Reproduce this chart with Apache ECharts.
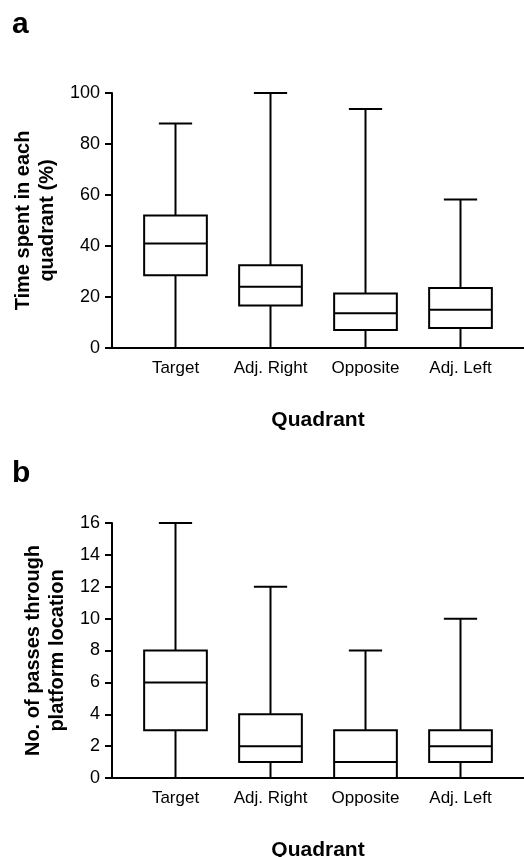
<!DOCTYPE html>
<html>
<head>
<meta charset="utf-8">
<script src="https://cdn.jsdelivr.net/npm/echarts@6/dist/echarts.min.js"></script>
<style>
  html, body { margin: 0; padding: 0; background: #fff; }
  #chart { width: 524px; height: 857px; }
</style>
</head>
<body>
<div id="chart"></div>
<script>
const quadrants = ["Target", "Adj. Right", "Opposite", "Adj. Left"];

// [min, q1, median, q3, max] per quadrant
const timeSpent = [
  [0, 28.5, 41, 52, 88],
  [0, 16.7, 24, 32.5, 100],
  [0, 7.1, 13.6, 21.4, 93.7],
  [0, 7.8, 15, 23.5, 58.2]
];
const passes = [
  [0, 3, 6, 8, 16],
  [0, 1, 2, 4, 12],
  [0, 0, 1, 3, 8],
  [0, 1, 2, 3, 10]
];

const FONT = "Liberation Sans, Arial, sans-serif";
const gridTop = [93, 523];
const gridH = 255;

function renderBox(params, api) {
  const i = api.value(0);
  const lo = api.coord([i, api.value(1)]);
  const q1 = api.coord([i, api.value(2)]);
  const med = api.coord([i, api.value(3)]);
  const q3 = api.coord([i, api.value(4)]);
  const hi = api.coord([i, api.value(5)]);
  const band = api.size([1, 0])[0];
  const bw = band * 0.66;
  const cw = band * 0.35;
  const cx = lo[0];
  const st = { stroke: "#000", lineWidth: 2, fill: null };
  return {
    type: "group",
    children: [
      { type: "line", shape: { x1: cx, y1: lo[1], x2: cx, y2: hi[1] }, style: st },
      { type: "line", shape: { x1: cx - cw / 2, y1: hi[1], x2: cx + cw / 2, y2: hi[1] }, style: st },
      { type: "rect", shape: { x: cx - bw / 2, y: q3[1], width: bw, height: q1[1] - q3[1] },
        style: { stroke: "#000", lineWidth: 2, fill: "#fff" } },
      { type: "line", shape: { x1: cx - bw / 2, y1: med[1], x2: cx + bw / 2, y2: med[1] }, style: st }
    ]
  };
}

function toRows(arr) {
  return arr.map((v, i) => [i].concat(v));
}

function xAxisCfg(idx) {
  return {
    type: "category",
    gridIndex: idx,
    data: quadrants,
    axisLine: { show: false },
    axisTick: { show: false },
    axisLabel: { color: "#000", fontSize: 17, fontFamily: FONT, margin: 12, interval: 0 },
    name: "Quadrant",
    nameLocation: "middle",
    nameGap: 62,
    nameTextStyle: { color: "#000", fontSize: 21, fontWeight: "bold", fontFamily: FONT }
  };
}

function yAxisCfg(idx, max, interval, name, gap) {
  return {
    type: "value",
    gridIndex: idx,
    min: 0,
    max: max,
    interval: interval,
    offset: 16,
    axisLine: { show: true, lineStyle: { color: "#000", width: 2 } },
    axisTick: { show: true, length: 7, lineStyle: { color: "#000", width: 2 } },
    axisLabel: { color: "#000", fontSize: 18, fontFamily: FONT, margin: 12 },
    splitLine: { show: false },
    name: name,
    nameLocation: "middle",
    nameRotate: 90,
    nameGap: gap,
    nameTextStyle: { color: "#000", fontSize: 20, fontWeight: "bold", fontFamily: FONT, lineHeight: 24 }
  };
}

const chart = echarts.init(document.getElementById("chart"));
chart.setOption({
  backgroundColor: "#fff",
  animation: false,
  grid: [
    { left: 128, width: 380, top: gridTop[0], height: gridH, outerBoundsMode: "none" },
    { left: 128, width: 380, top: gridTop[1], height: gridH, outerBoundsMode: "none" }
  ],
  xAxis: [xAxisCfg(0), xAxisCfg(1)],
  yAxis: [
    yAxisCfg(0, 100, 20, "Time spent in each\nquadrant (%)", 48),
    yAxisCfg(1, 16, 2, "No. of passes through\nplatform location", 40)
  ],
  series: [
    { type: "custom", xAxisIndex: 0, yAxisIndex: 0, data: toRows(timeSpent),
      renderItem: renderBox, encode: { x: 0, y: [1, 2, 3, 4, 5] } },
    { type: "custom", xAxisIndex: 1, yAxisIndex: 1, data: toRows(passes),
      renderItem: renderBox, encode: { x: 0, y: [1, 2, 3, 4, 5] } }
  ],
  graphic: [
    { type: "text", left: 12, top: 10,
      style: { text: "a", font: "bold 30px " + FONT, fill: "#000" } },
    { type: "text", left: 12, top: 459,
      style: { text: "b", font: "bold 30px " + FONT, fill: "#000" } },
    { type: "line", shape: { x1: 112, y1: gridTop[0] + gridH, x2: 524, y2: gridTop[0] + gridH },
      style: { stroke: "#000", lineWidth: 2 } },
    { type: "line", shape: { x1: 112, y1: gridTop[1] + gridH, x2: 524, y2: gridTop[1] + gridH },
      style: { stroke: "#000", lineWidth: 2 } }
  ]
});
</script>
</body>
</html>
